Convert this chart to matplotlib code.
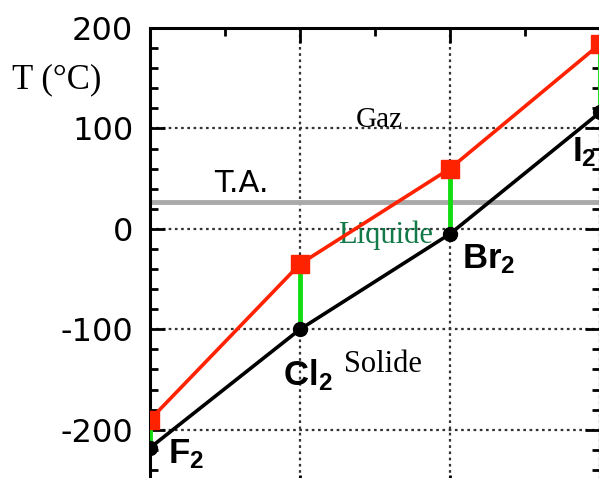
import matplotlib
matplotlib.use("Agg")
import matplotlib.pyplot as plt
from matplotlib.ticker import MultipleLocator

plt.rcParams['axes.unicode_minus'] = False
plt.rcParams['mathtext.fontset'] = 'custom'
plt.rcParams['mathtext.bf'] = 'Liberation Sans:bold'
plt.rcParams['mathtext.rm'] = 'Liberation Sans'

# Halogens: melting and boiling points (°C)
halogens = [r"$\mathbf{F_2}$", r"$\mathbf{Cl_2}$", r"$\mathbf{Br_2}$", r"$\mathbf{I_2}$"]
melting = [-218, -100, -5, 116]
boiling = [-190, -35, 60, 184]
room_temp = 27
y_ticks = [-200, -100, 0, 100, 200]

xs = list(range(len(halogens)))

fig = plt.figure(figsize=(5.99, 4.78), dpi=100)
W, H = 599, 478
left, right, top, bottom = 150, 600, 28, 490
ax = fig.add_axes([left / W, 1 - bottom / H, (right - left) / W, (bottom - top) / H])
ax.set_xlim(0, 3)
ax.set_ylim(-260, 200)

# Frame, ticks and dotted grid
for s in ax.spines.values():
    s.set_linewidth(2.2)
ax.xaxis.set_major_locator(MultipleLocator(1))
ax.xaxis.set_minor_locator(MultipleLocator(0.5))
ax.yaxis.set_major_locator(MultipleLocator(100))
ax.yaxis.set_minor_locator(MultipleLocator(20))
ax.tick_params(which='both', direction='in', top=True, right=True, width=2)
ax.tick_params(which='major', length=11)
ax.tick_params(which='minor', length=6)
ax.tick_params(axis='x', labelbottom=False)
ax.tick_params(axis='y', labelsize=23, pad=12)
ax.set_yticks(y_ticks)
ax.set_yticklabels([str(v) for v in y_ticks])
ax.grid(True, which='major', linestyle=(0, (1.2, 1.6)), color='#333333', linewidth=1.6)
ax.set_axisbelow(True)

# Room temperature
ax.axhline(room_temp, color='#aaaaaa', linewidth=3.5, zorder=2)
ax.text(0.61, room_temp + 4, "T.A.", fontsize=22, ha='center', va='bottom',
        family='DejaVu Sans')

# Liquid range bars
for x, m, b in zip(xs, melting, boiling):
    ax.plot([x, x], [m, b], color='#11dd11', linewidth=3.5, zorder=3, solid_capstyle='butt')

ax.plot(xs, boiling, color='#ff2200', linewidth=2.6, marker='s', markersize=13,
        zorder=4)
ax.plot(xs, melting, color='black', linewidth=2.6, marker='o', markersize=10,
        zorder=5)

# Species labels (offsets in points from each melting-point marker)
offsets = [(13, -11), (-12, -40), (9, -25), (-20, -35)]
for x, m, lab, off in zip(xs, melting, halogens, offsets):
    ax.annotate(lab, (x, m), xytext=off, textcoords='offset points',
                fontsize=25, ha='left', va='baseline', annotation_clip=False)

# Phase regions
ax.text(1.53, 108, "Gaz", fontsize=21, family='Liberation Serif', ha='center', va='center')
ax.text(1.57, -6, "Liquide", fontsize=22, family='Liberation Serif', color='#127a48',
        ha='center', va='center')
ax.text(1.55, -135, "Solide", fontsize=22, family='Liberation Serif', ha='center', va='center')

fig.text(57 / W, 1 - 80 / H, "T (°C)", fontsize=25, family='Liberation Serif',
         ha='center', va='center')

fig.savefig("out.png", dpi=100)
